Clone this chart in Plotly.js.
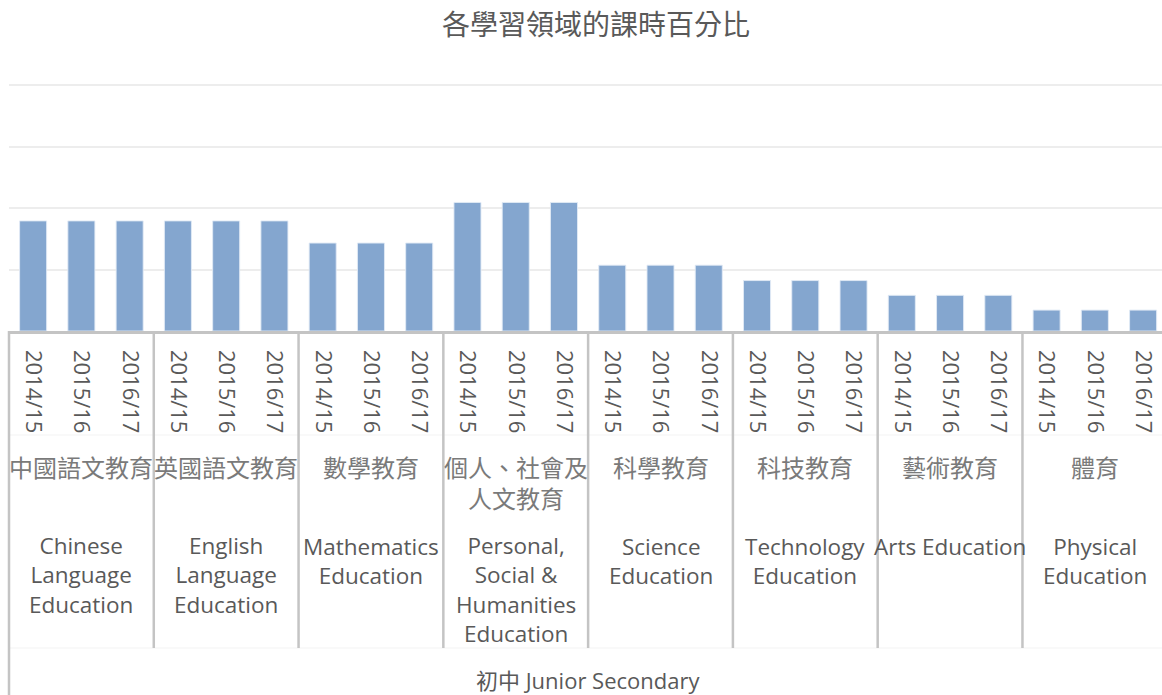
<!DOCTYPE html>
<html>
<head>
<meta charset="utf-8">
<script src="https://cdn.plot.ly/plotly-3.0.1.min.js"></script>
<style>html,body{margin:0;padding:0;background:#fff;}#chart{width:1162px;height:695px;}</style>
</head>
<body>
<div id="chart"></div>
<script>
// ---- data ----
const chartTitle = '各學習領域的課時百分比';
const years = ['2014/15', '2015/16', '2016/17'];
const subjectsZh = ['中國語文教育', '英國語文教育', '數學教育', '個人、社會及<br>人文教育', '科學教育', '科技教育', '藝術教育', '體育'];
const subjectsEn = ['Chinese<br>Language<br>Education', 'English<br>Language<br>Education', 'Mathematics<br>Education', 'Personal,<br>Social &<br>Humanities<br>Education', 'Science<br>Education', 'Technology<br>Education', 'Arts Education', 'Physical<br>Education'];
const share2014_15 = [17.9, 17.9, 14.3, 20.9, 10.7, 8.2, 5.8, 3.4];
const share2015_16 = [17.9, 17.9, 14.3, 20.9, 10.7, 8.2, 5.8, 3.4];
const share2016_17 = [17.9, 17.9, 14.3, 20.9, 10.7, 8.2, 5.8, 3.4];
const levelLabel = '初中 Junior Secondary';

// ---- build ----
const seriesByYear = [share2014_15, share2015_16, share2016_17];
const xs = [], ys = [], tickVals = [], tickText = [];
subjectsZh.forEach((s, i) => {
  years.forEach((yr, j) => {
    const pos = i * years.length + j;
    xs.push(pos);
    ys.push(seriesByYear[j][i]);
    tickVals.push(pos);
    tickText.push(yr);
  });
});

const W = 1162, H = 695;
const mL = 9, mR = 0, mT = 85, mB = 364;
const plotTop = mT, plotBottom = H - mB;
const pitch = 48.26;
const xRange = [-0.5, -0.5 + (W - mL - mR) / pitch];
const pyPaper = px => (plotBottom - px) / (plotBottom - plotTop);
const pxPaper = xv => (xv - xRange[0]) / (xRange[1] - xRange[0]);

const grey = '#595959';
const shapes = [];
// top gridline (at the range edge)
shapes.push({type: 'line', xref: 'paper', yref: 'paper', x0: 0, x1: 1, y0: 1, y1: 1, line: {color: '#ededed', width: 2}, layer: 'below'});
const nGroups = subjectsZh.length, n = years.length;
for (let k = 0; k <= nGroups; k++) {
  const xv = k * n - 0.5;
  shapes.push({
    type: 'line', xref: 'paper', yref: 'paper',
    x0: pxPaper(xv), x1: pxPaper(xv),
    y0: 0, y1: pyPaper(k === 0 ? H + 5 : 648),
    line: {color: '#c4c4c4', width: 2.5}
  });
}
// faint separator lines between label rows
shapes.push({type: 'line', xref: 'paper', yref: 'paper', x0: 0, x1: 1, y0: pyPaper(435), y1: pyPaper(435), line: {color: '#f3f3f3', width: 1}, layer: 'below'});
shapes.push({type: 'line', xref: 'paper', yref: 'paper', x0: 0, x1: 1, y0: pyPaper(648), y1: pyPaper(648), line: {color: '#f3f3f3', width: 1}, layer: 'below'});

const annotations = [];
function addBlock(text, xv, firstCenterPx, font) {
  const nLines = text.split('<br>').length;
  const lineH = 1.3 * font.size;
  annotations.push({
    x: xv, xref: 'x', y: pyPaper(firstCenterPx + (nLines - 1) * lineH / 2), yref: 'paper',
    text: text, showarrow: false, xanchor: 'center', yanchor: 'middle', align: 'center',
    borderpad: 0, font: font
  });
}
subjectsZh.forEach((s, i) => {
  const c = i * n + (n - 1) / 2;
  addBlock(s, c, 466, {family: 'Noto Sans CJK TC, Noto Sans CJK SC, sans-serif', size: 24, color: '#7a7a7a'});
  addBlock(subjectsEn[i], c, 546, {family: 'Open Sans, sans-serif', size: 22.5, color: grey});
});
annotations.push({
  x: ((nGroups * n - 0.5) + (-0.5)) / 2, xref: 'x', y: pyPaper(680), yref: 'paper',
  text: levelLabel, showarrow: false, xanchor: 'center', yanchor: 'middle', borderpad: 0,
  font: {family: 'Open Sans, Noto Sans CJK TC, sans-serif', size: 22, color: grey}
});

const trace = {
  type: 'bar', x: xs, y: ys, width: 0.56,
  marker: {color: '#84a6cf', line: {color: 'rgba(225,234,245,0.9)', width: 1}},
  hoverinfo: 'y'
};

const layout = {
  width: W, height: H,
  margin: {l: mL, r: mR, t: mT, b: mB, pad: 0},
  paper_bgcolor: '#ffffff', plot_bgcolor: '#ffffff',
  showlegend: false,
  title: {text: chartTitle, x: 0.513, xanchor: 'center', y: 1 - 25 / H, yanchor: 'middle',
          font: {family: 'Noto Sans CJK TC, Noto Sans CJK SC, sans-serif', size: 28, color: grey}},
  xaxis: {
    range: xRange, tickmode: 'array', tickvals: tickVals, ticktext: tickText,
    tickangle: 90, ticks: '', ticklabelstandoff: 12,
    tickfont: {family: 'Open Sans, sans-serif', size: 22, color: grey},
    showline: true, linecolor: '#c4c4c4', linewidth: 2.5, showgrid: false, zeroline: false, fixedrange: true
  },
  yaxis: {
    range: [0, 40], dtick: 10, showticklabels: false, ticks: '',
    showgrid: true, gridcolor: '#ededed', gridwidth: 2, zeroline: false, showline: false, fixedrange: true
  },
  shapes: shapes, annotations: annotations
};

Plotly.newPlot('chart', [trace], layout, {displayModeBar: false, staticPlot: true});
</script>
</body>
</html>
